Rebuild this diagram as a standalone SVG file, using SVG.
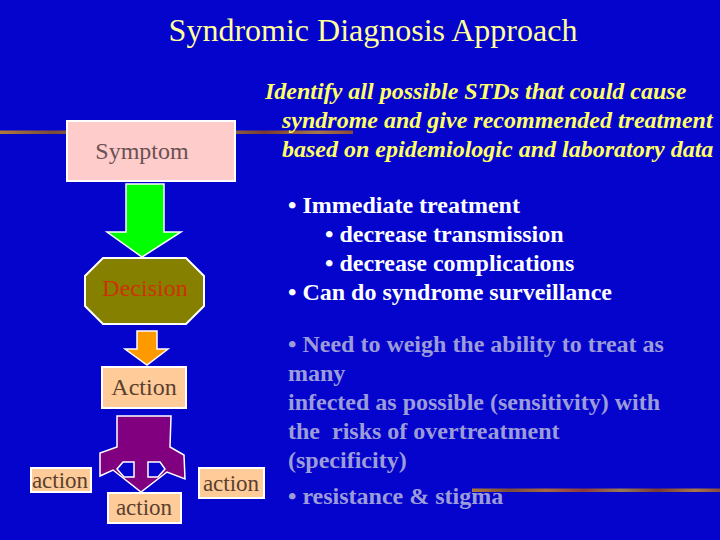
<svg xmlns="http://www.w3.org/2000/svg" width="720" height="540" viewBox="0 0 720 540">
<defs>
<linearGradient id="bar" x1="0" y1="0" x2="1" y2="0">
<stop offset="0" stop-color="#B07A3A"/>
<stop offset="0.15" stop-color="#7A4A3A"/>
<stop offset="0.3" stop-color="#A86A40"/>
<stop offset="0.45" stop-color="#8A3A3A"/>
<stop offset="0.6" stop-color="#9A7A50"/>
<stop offset="0.75" stop-color="#7A3A30"/>
<stop offset="0.9" stop-color="#A87848"/>
<stop offset="1" stop-color="#8A4A38"/>
</linearGradient>
<style>
.serif{font-family:"Liberation Serif","Times New Roman",serif;white-space:pre}
.box{stroke:#FFFFFF;stroke-width:2}
.lbl{font-size:24px;text-anchor:middle}
.sm{font-size:23px;text-anchor:middle;fill:#5A4030}
.arrow{stroke:#FFFFFF;stroke-width:1.5;stroke-linejoin:miter}
.hole{fill:#0404CC;stroke:#FFFFFF;stroke-width:1.5}
.wb{font-size:24px;font-weight:bold;fill:#FFFFFF}
.gb{font-size:24px;font-weight:bold;fill:#9C9CD8}
.yi{font-size:24px;font-weight:bold;font-style:italic;fill:#FFFF66}
</style>
</defs>
<rect width="720" height="540" fill="#0404CC"/>
<rect x="0" y="130.5" width="353" height="3.5" fill="url(#bar)"/>
<rect x="472" y="488.5" width="248" height="3.5" fill="url(#bar)"/>
<text class="serif" x="373" y="41" font-size="32" text-anchor="middle" fill="#FFFF99">Syndromic Diagnosis Approach</text>
<g id="connectors">
<path class="arrow" fill="#00FF00" d="M126,184 L164,184 L164,232 L181,232 L142,257 L107,232 L126,232 Z"/>
<path class="arrow" fill="#FF9900" d="M137,331 L157,331 L157,349 L168,349 L147,365 L125,349 L137,349 Z"/>
<path class="arrow" fill="#800080" d="M117,416 L171,416 L170,447 L184,455 L185,479 L167,472 L141,492 L113,470 L100,476 L100,453 L117,447 Z"/>
<path class="hole" d="M123,462 L134,462 L134,477 L124,477 L117,469 Z"/>
<path class="hole" d="M160,462 L148,462 L148,477 L158,477 L165,469 Z"/>
</g>
<g id="symptom">
<rect class="box" x="67" y="121" width="168" height="60" fill="#FFCCCC"/>
<text class="serif lbl" x="142" y="159" fill="#6A5050">Symptom</text>
</g>
<g id="decision">
<polygon class="box" points="103,258 186,258 204,276 204,306 186,324 103,324 85,306 85,276" fill="#858000"/>
<text class="serif lbl" x="145" y="296" fill="#CC3300">Decision</text>
</g>
<g id="action-main">
<rect class="box" x="102" y="367" width="84" height="41" fill="#FFCC99"/>
<text class="serif lbl" x="144" y="395" fill="#5A4030">Action</text>
</g>
<g id="action-left">
<rect class="box" x="31" y="468" width="60" height="24" fill="#FFCC99"/>
<text class="serif sm" x="60" y="488">action</text>
</g>
<g id="action-bottom">
<rect class="box" x="108" y="493" width="73" height="30" fill="#FFCC99"/>
<text class="serif sm" x="144" y="515">action</text>
</g>
<g id="action-right">
<rect class="box" x="199" y="468" width="65" height="30" fill="#FFCC99"/>
<text class="serif sm" x="231" y="491">action</text>
</g>
<g id="identify">
<text class="serif yi" x="265" y="99">Identify all possible STDs that could cause</text>
<text class="serif yi" x="282" y="128">syndrome and give recommended treatment</text>
<text class="serif yi" x="282" y="157">based on epidemiologic and laboratory data</text>
</g>
<g id="benefits">
<text class="serif wb" x="288" y="213">• Immediate treatment</text>
<text class="serif wb" x="325" y="242">• decrease transmission</text>
<text class="serif wb" x="325" y="271">• decrease complications</text>
<text class="serif wb" x="288" y="300">• Can do syndrome surveillance</text>
</g>
<g id="concerns">
<text class="serif gb" x="288" y="352">• Need to weigh the ability to treat as</text>
<text class="serif gb" x="288" y="381">many</text>
<text class="serif gb" x="288" y="410">infected as possible (sensitivity) with</text>
<text class="serif gb" x="288" y="439">the  risks of overtreatment</text>
<text class="serif gb" x="288" y="468">(specificity)</text>
<text class="serif gb" x="288" y="504">• resistance &amp; stigma</text>
</g>
</svg>
